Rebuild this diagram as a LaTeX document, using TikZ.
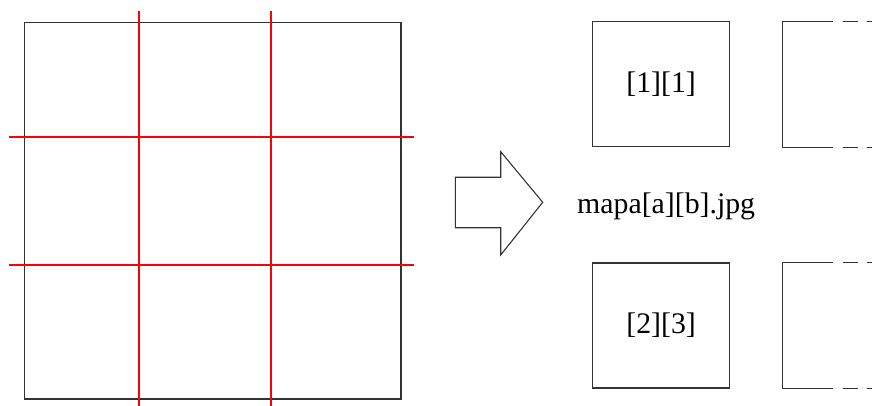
\documentclass[tikz,border=0pt]{standalone}
\usepackage{fontspec}
\setmainfont{Liberation Serif}
\begin{document}
\begin{tikzpicture}[x=1pt,y=-1pt,
  frame/.style={draw=black!80,line width=1.3pt},
  cut/.style={draw=red,line width=2pt},
  tile/.style={frame,minimum width=136.8pt,minimum height=125pt,inner sep=0pt,font=\fontsize{29.8pt}{32pt}\selectfont},
  label/.style={inner sep=0pt,font=\fontsize{29.8pt}{32pt}\selectfont},
  partial/.style={frame,dash pattern=on 51pt off 9.4pt on 15pt off 9pt on 30pt}]
\useasboundingbox (0,0) rectangle (872,406);
% big map
\node[frame,minimum width=376.3pt,minimum height=376.3pt,inner sep=0pt] (map) at (212.85,210.85) {};
\coordinate (v1t) at (138.7,11.5);  \coordinate (v1b) at (138.7,406);
\coordinate (v2t) at (270.7,11.5);  \coordinate (v2b) at (270.7,406);
\coordinate (h1l) at (9,137.3);   \coordinate (h1r) at (413.5,137.3);
\coordinate (h2l) at (9,265);     \coordinate (h2r) at (413.5,265);
\draw[cut] (v1t) -- (v1b);
\draw[cut] (v2t) -- (v2b);
\draw[cut] (h1l) -- (h1r);
\draw[cut] (h2l) -- (h2r);
% block arrow
\draw[frame,line width=1.1pt,line join=miter]
  (455.3,177.3) -- (500.7,177.3) -- (500.7,151.7) -- (542.7,202.3)
  -- (500.7,255) -- (500.7,227.7) -- (455.3,227.7) -- cycle;
% tiles
\node[tile] (t11) at (661.1,84.2) {[1][1]};
\node[tile] (t23) at (661.1,325.5) {[2][3]};
\node[label,anchor=base west] (name) at (577,213) {mapa[a][b].jpg};
% partial tiles on the right
\coordinate (pa) at (782.3,21.7); \coordinate (pb) at (782.3,147.3);
\coordinate (pa2) at (880,21.7); \coordinate (pb2) at (880,147.3);
\draw[frame] (pa) -- (pb);
\draw[partial] (pa) -- (pa2);
\draw[partial] (pb) -- (pb2);
\coordinate (qa) at (782.3,262.7); \coordinate (qb) at (782.3,388.3);
\coordinate (qa2) at (880,262.7); \coordinate (qb2) at (880,388.3);
\draw[frame] (qa) -- (qb);
\draw[partial] (qa) -- (qa2);
\draw[partial] (qb) -- (qb2);
\end{tikzpicture}
\end{document}
